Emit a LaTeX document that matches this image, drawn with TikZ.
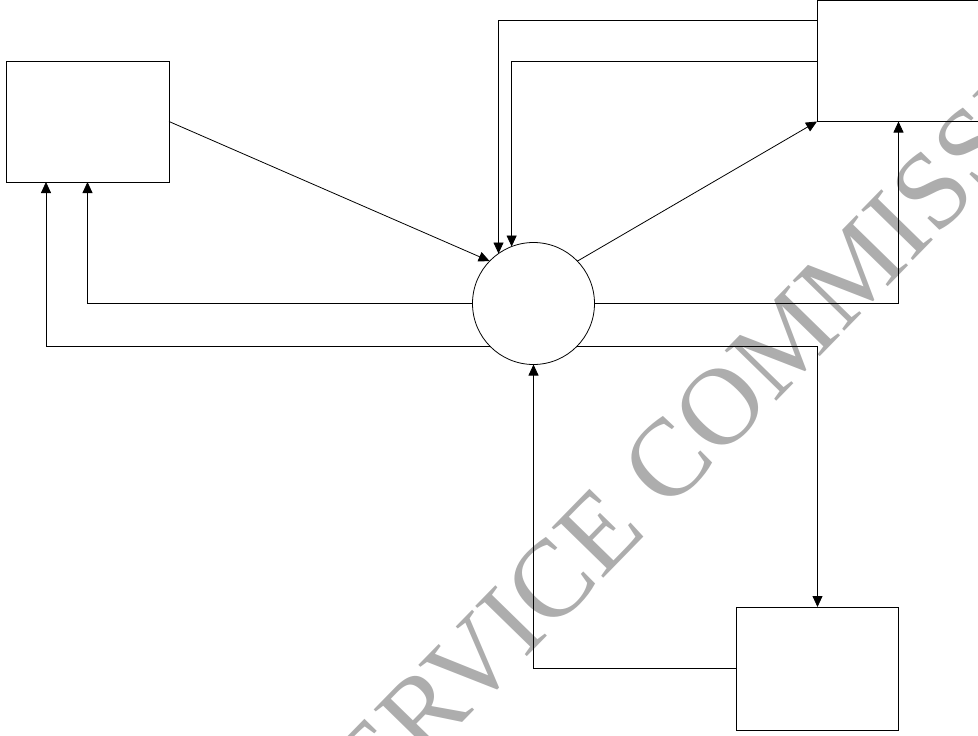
\documentclass[tikz,border=0pt]{standalone}
\usepackage{fontspec}
\setmainfont{Liberation Serif}
\usetikzlibrary{arrows.meta}
\begin{document}
\begin{tikzpicture}[x=1pt,y=-1pt,line width=0.8pt,
  box/.style={draw,rectangle,inner sep=0pt,outer sep=0pt},
  proc/.style={draw,circle,inner sep=0pt,outer sep=0pt,minimum size=122pt},
  arr/.style={-{Triangle[length=11pt,width=10pt]}},
  wm/.style={text=black!32,font=\fontsize{110}{114}\selectfont,rotate=45.7,anchor=base west,inner sep=0pt}]
\useasboundingbox (0,0) rectangle (978,736);
\clip (0,0) rectangle (978,736);
\node[wm] (wmark) at (334,854.5) {SERVICE COMMISSION};
\node[box,minimum width=163pt,minimum height=121pt] (L) at (87.5,121.5) {};
\node[proc] (P) at (533.5,303.5) {};
\node[box,minimum width=283pt,minimum height=121pt] (TR) at (958.5,61) {};
\node[box,minimum width=162pt,minimum height=123pt] (B) at (817.5,668.5) {};
\draw[arr] (L.east) -- (P.136.7);
\draw[arr] (TR.west |- 0,20) -| (P.125.6);
\draw[arr] (TR.west) -| (P.111.1);
\draw[arr] (P.44.5) -- (TR.south west);
\draw[arr] (P.east) -| (B.east |- TR.south);
\draw[arr] (P.west) -| (L.south);
\draw[arr] (P.225) -| ([xshift=40pt]L.south west);
\draw[arr] (P.-45) -| (B.north);
\draw[arr] (B.west) -| (P.south);
\end{tikzpicture}
\end{document}
